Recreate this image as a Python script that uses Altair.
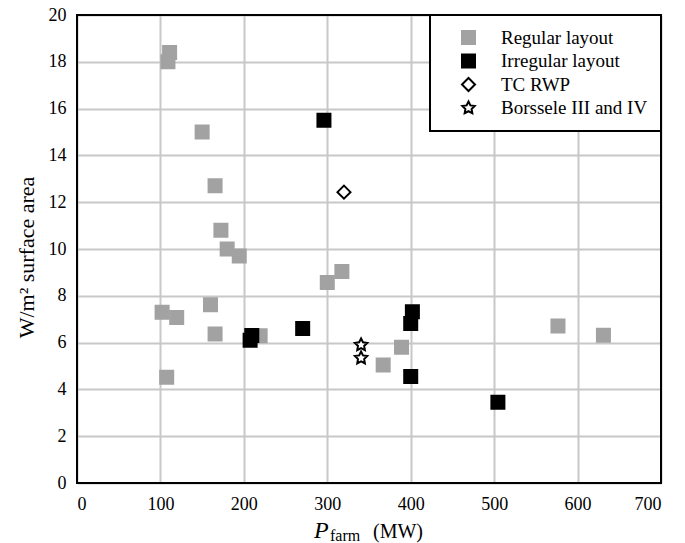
import altair as alt
import pandas as pd

# ---- data ----
series_names = ["Regular layout", "Irregular layout", "TC RWP", "Borssele III and IV"]

regular_x = [111, 109, 150, 165.5, 172.5, 180, 194.5, 300, 317.5, 160, 102, 119.5,
             165.5, 219.5, 389, 367, 576.5, 631, 107.5]
regular_y = [18.4, 18.0, 15.0, 12.7, 10.8, 10.0, 9.7, 8.57, 9.04, 7.62, 7.3, 7.07,
             6.37, 6.29, 5.8, 5.04, 6.71, 6.31, 4.52]

irregular_x = [296, 270.5, 209.5, 207.5, 402, 400, 400, 504.5]
irregular_y = [15.5, 6.6, 6.3, 6.1, 7.32, 6.82, 4.55, 3.45]

tc_x = [320]
tc_y = [12.43]

borssele_x = [340.5, 340.5]
borssele_y = [5.9, 5.34]

x_ticks = [0, 100, 200, 300, 400, 500, 600, 700]
y_ticks = [0, 2, 4, 6, 8, 10, 12, 14, 16, 18, 20]

rows = []
for name, xs, ys in [(series_names[0], regular_x, regular_y),
                     (series_names[1], irregular_x, irregular_y),
                     (series_names[2], tc_x, tc_y),
                     (series_names[3], borssele_x, borssele_y)]:
    for xv, yv in zip(xs, ys):
        rows.append({"series": name, "P": xv, "W": yv})
df = pd.DataFrame(rows)

GRAY = "#a2a2a2"
FONT = "Liberation Serif"
STAR = ("M0,-1L0.294,-0.405L0.951,-0.309L0.476,0.155L0.588,0.809L0,0.5"
        "L-0.588,0.809L-0.476,0.155L-0.951,-0.309L-0.294,-0.405Z")

W, H = 584, 468

legend = alt.Legend(
    title=None, orient="top-right", offset=0, padding=13,
    strokeColor="black", fillColor="white",
    labelFont=FONT, labelFontSize=19, labelColor="black",
    symbolOffset=16, labelOffset=23, rowPadding=2.5, symbolStrokeWidth=2,
)

points = alt.Chart(df).mark_point(filled=True, opacity=1, strokeWidth=2).encode(
    x=alt.X("P:Q", scale=alt.Scale(domain=[0, 700], nice=False),
            axis=alt.Axis(values=x_ticks, title=None, labelPadding=12)),
    y=alt.Y("W:Q", scale=alt.Scale(domain=[0, 20], nice=False),
            axis=alt.Axis(values=y_ticks, title="W/m² surface area",
                          labelPadding=11, titlePadding=10, titleY=242)),
    shape=alt.Shape("series:N", scale=alt.Scale(domain=series_names,
                    range=["square", "square", "diamond", STAR]), legend=legend),
    fill=alt.Fill("series:N", scale=alt.Scale(domain=series_names,
                  range=[GRAY, "black", "white", "white"]), legend=legend),
    stroke=alt.Stroke("series:N", scale=alt.Scale(domain=series_names,
                      range=[GRAY, "black", "black", "black"]), legend=legend),
    size=alt.Size("series:N", scale=alt.Scale(domain=series_names,
                  range=[169, 169, 230, 265]), legend=legend),
)

one = pd.DataFrame({"k": [0]})

frame = alt.Chart(one).mark_rect(fill=None, stroke="black", strokeWidth=2).encode(
    x=alt.value(0), x2=alt.value(W), y=alt.value(0), y2=alt.value(H)
)


def tlabel(txt, px, py, size, style="normal"):
    return alt.Chart(one).mark_text(
        text=txt, font=FONT, fontSize=size, fontStyle=style,
        align="left", baseline="alphabetic", color="black"
    ).encode(x=alt.value(px), y=alt.value(py))


t_p = tlabel("P", 237, 523, 24, "italic")
t_farm = tlabel("farm", 253, 526, 16)
t_mw = tlabel("(MW)", 296, 523, 20)

chart = alt.layer(frame, points, t_p, t_farm, t_mw).properties(
    width=W, height=H,
    padding={"left": 69, "top": 7, "right": 16, "bottom": 60},
    autosize=alt.AutoSizeParams(type="none"),
).configure_view(stroke=None).configure_axis(
    grid=True, gridColor="#c8c8c8", gridWidth=2, domain=False, ticks=False,
    labelFont=FONT, labelFontSize=18, labelColor="black",
    titleFont=FONT, titleFontSize=22, titleColor="black", titleFontWeight="normal",
).configure_legend(strokeWidth=2)

chart.save("out.html", embed_options={"renderer": "svg", "actions": False})
